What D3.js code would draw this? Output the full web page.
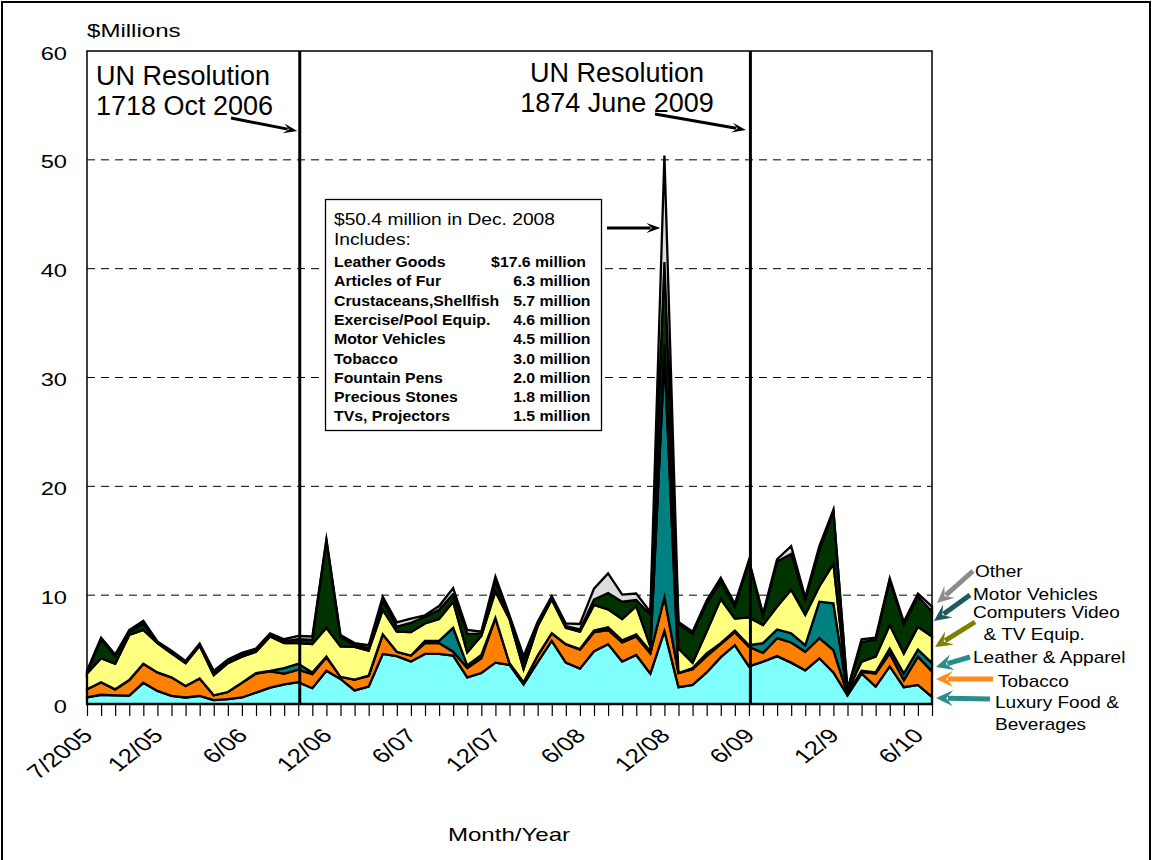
<!DOCTYPE html>
<html><head><meta charset="utf-8">
<script src="https://cdn.jsdelivr.net/npm/d3@7/dist/d3.min.js"></script>
<style>
body{margin:0;background:#fff}
svg{display:block}
text{font-family:"Liberation Sans",Arial,sans-serif}
</style>
</head><body>
<svg id="chart" width="1153" height="860"></svg>
<script>
// ---------------- DATA ----------------
const months = [
 "2005-07","2005-08","2005-09","2005-10","2005-11","2005-12",
 "2006-01","2006-02","2006-03","2006-04","2006-05","2006-06","2006-07","2006-08","2006-09","2006-10","2006-11","2006-12",
 "2007-01","2007-02","2007-03","2007-04","2007-05","2007-06","2007-07","2007-08","2007-09","2007-10","2007-11","2007-12",
 "2008-01","2008-02","2008-03","2008-04","2008-05","2008-06","2008-07","2008-08","2008-09","2008-10","2008-11","2008-12",
 "2009-01","2009-02","2009-03","2009-04","2009-05","2009-06","2009-07","2009-08","2009-09","2009-10","2009-11","2009-12",
 "2010-01","2010-02","2010-03","2010-04","2010-05","2010-06","2010-07"];

const luxuryFood = [0.6,0.85,0.8,0.77,1.95,1.2,0.75,0.6,0.75,0.35,
 0.45,0.6,1.05,1.5,1.8,2.0,1.45,3.05,2.3,1.25,
 1.6,4.6,4.4,3.9,4.6,4.6,4.45,2.45,2.85,3.8,
 3.6,1.8,3.85,5.8,3.8,3.25,4.85,5.5,3.9,4.5,
 2.8,6.7,1.55,1.75,2.9,4.3,5.4,3.45,3.9,4.4,
 3.8,3.1,4.2,2.9,0.8,2.8,1.6,3.45,1.55,1.75,
 0.65];
const tobacco = [0.75,1.15,0.55,1.43,1.75,1.7,1.7,1.05,1.6,0.45,
 0.65,1.35,1.75,1.5,1.0,1.15,1.3,1.25,0.2,1.0,
 1.0,1.8,0.4,0.55,1.0,1.0,0.35,0.85,1.35,4.1,
 0.15,0.15,0.6,0.7,1.7,1.75,1.75,1.3,1.75,1.7,
 1.85,3.1,1.3,1.45,1.5,1.2,1.2,1.8,0.8,1.65,
 1.85,1.7,1.85,2.05,0.1,0.15,1.2,1.2,0.65,2.6,
 2.35];
const leatherApparel = [0,0,0,0,0,0,0,0,0,0,
 0,0,0.05,0.05,0.5,0.55,0.15,0.05,0,0,
 0,0,0,0,0.2,0.2,2.2,0.25,0.3,0,
 0,0.05,0,0,0,0.05,0.15,0.25,0.2,0.2,
 0.2,22.2,0,0.1,0.25,0.1,0.15,0.15,0.9,0.8,
 0.85,0.6,3.35,4.3,0.05,0.1,0.1,0.45,0.6,0.65,
 0.75];
const computersTV = [1.45,2.2,2.35,4.15,3.1,2.7,2.2,2.1,3.0,1.85,
 2.65,2.4,1.95,3.15,2.3,1.9,2.6,2.65,2.8,3.0,
 2.3,2.25,1.85,2.15,1.6,2.0,2.4,1.2,1.75,2.45,
 4.05,1.2,2.7,3.1,1.5,1.6,2.35,1.65,1.95,2.6,
 0.45,1.0,2.25,0.5,2.0,4.05,1.1,2.55,1.65,2.1,
 4.0,2.8,1.4,3.65,0.2,0.85,1.45,2.15,1.85,2.1,
 2.45];
const motorVehicles = [0.15,1.75,0.7,0.25,0.6,0.05,0.1,0.1,0.1,0.25,
 0.15,0.15,0.15,0.15,0.15,0.35,0.4,8.05,0.85,0.15,
 0.25,0.85,0.45,0.85,0.6,0.85,0.7,1.7,0.25,0.9,
 0.15,0.8,0.2,0.2,0.15,0.2,0.5,1.5,1.6,0.55,
 2.9,7.6,2.25,2.65,2.6,1.6,1.1,5.15,0.85,4.15,
 3.3,1.4,3.3,4.8,0.15,1.8,1.55,4.15,2.7,2.75,
 2.3];
const other = [0.1,0.15,0.15,0.2,0.25,0.1,0.15,0.1,0.1,0.15,
 0.2,0.2,0.15,0.15,0.2,0.3,0.3,0.05,0.2,0.2,
 0.25,0.35,0.4,0.4,0.15,0.35,0.55,0.35,0.15,0.45,
 0.2,0.4,0.2,0.1,0.25,0.5,1.0,1.8,0.65,0.6,
 0.25,9.8,0.2,0.2,0.25,0.35,0.25,0.1,0.2,0.2,
 0.7,0.2,0.4,0.15,0.05,0.25,0.2,0.15,0.2,0.3,
 0.45];

const seriesKeys = ["food","tobacco","leather","computers","motor","other"];
const seriesColors = ["#80FFFF","#FF8000","#008080","#FFFF80","#003300","#DDDDDD"];

const yTicks = [0,10,20,30,40,50,60];
const xLabelMonths = ["2005-07","2005-12","2006-06","2006-12","2007-06","2007-12","2008-06","2008-12","2009-06","2009-12","2010-06"];
const xLabels = ["7/2005","12/05","6/06","12/06","6/07","12/07","6/08","12/08","6/09","12/9","6/10"];

const resolutionMonths = ["2006-10","2009-06"];
const resolutionText = [["UN Resolution","1718 Oct 2006"],["UN Resolution","1874 June 2009"]];

const boxTitle = "$50.4 million in Dec. 2008";
const boxSub = "Includes:";
const boxItems = ["Leather Goods","Articles of Fur","Crustaceans,Shellfish","Exercise/Pool Equip.","Motor Vehicles","Tobacco","Fountain Pens","Precious Stones","TVs, Projectors"];
const boxAmounts = ["$17.6 million","6.3 million","5.7 million","4.6 million","4.5 million","3.0 million","2.0 million","1.8 million","1.5 million"];

const legendLines = [["Other"],["Motor Vehicles"],["Computers Video","  & TV Equip."],["Leather & Apparel"],["Tobacco"],["Luxury Food &","Beverages"]];
const legendArrowColors = ["#8C8C8C","#1E5A5A","#808000","#2A8C8C","#FF8C1A","#2A8C8C"];

// ---------------- CHART ----------------
const svg = d3.select("#chart");
const L = 87, R = 932, T = 51, B = 704;
const x = d3.scalePoint().domain(months).range([L, R]);
const y = d3.scaleLinear().domain([0, 60]).range([B, T]);

function txt(g, px, py, s, o = {}) {
  const t = g.append("text").attr("x", px).attr("y", py).text(s)
    .attr("font-size", o.size || 16).attr("font-weight", o.weight || "normal")
    .attr("text-anchor", o.anchor || "start").attr("fill", o.fill || "#000")
    .style("white-space", "pre");
  if (o.transform) t.attr("transform", o.transform);
  if (o.sx && o.sx !== 1) {
    const len = t.node().getComputedTextLength();
    t.attr("textLength", len * o.sx).attr("lengthAdjust", "spacingAndGlyphs");
  }
  return t;
}
function arrow(g, x1, y1, x2, y2, color, w, hl, hw) {
  const ang = Math.atan2(y2 - y1, x2 - x1);
  const cx = Math.cos(ang), sy = Math.sin(ang);
  const bx = x2 - cx * hl * 0.7, by = y2 - sy * hl * 0.7;
  g.append("line").attr("x1", x1).attr("y1", y1).attr("x2", bx).attr("y2", by)
    .attr("stroke", color).attr("stroke-width", w);
  const px = -sy, py = cx;
  const pts = [[x2, y2],
    [x2 - cx * hl + px * hw / 2, y2 - sy * hl + py * hw / 2],
    [x2 - cx * hl * 0.6, y2 - sy * hl * 0.6],
    [x2 - cx * hl - px * hw / 2, y2 - sy * hl - py * hw / 2]];
  g.append("polygon").attr("points", pts.map(p => p.join(",")).join(" ")).attr("fill", color);
}

// outer border
svg.append("rect").attr("x", 2).attr("y", 2).attr("width", 1148).attr("height", 880)
  .attr("fill", "none").attr("stroke", "#000").attr("stroke-width", 2);

// gridlines
svg.append("g").selectAll("line").data(yTicks.filter(v => v > 0 && v < 60)).join("line")
  .attr("x1", L).attr("x2", R).attr("y1", d => y(d)).attr("y2", d => y(d))
  .attr("stroke", "#000").attr("stroke-width", 1).attr("stroke-dasharray", "8,6");

// stacked areas
const table = months.map((m, i) => ({
  month: m, food: luxuryFood[i], tobacco: tobacco[i], leather: leatherApparel[i],
  computers: computersTV[i], motor: motorVehicles[i], other: other[i]
}));
const stacked = d3.stack().keys(seriesKeys)(table);
const area = d3.area().x(d => x(d.data.month)).y0(d => y(d[0])).y1(d => y(d[1]));
svg.append("g").selectAll("path").data(stacked).join("path")
  .attr("d", area).attr("fill", (d, i) => seriesColors[i])
  .attr("stroke", "#000").attr("stroke-width", 2.3).attr("stroke-linejoin", "miter")
  .attr("stroke-miterlimit", 20);

// plot frame
svg.append("rect").attr("x", L).attr("y", T).attr("width", R - L).attr("height", B - T)
  .attr("fill", "none").attr("stroke", "#000").attr("stroke-width", 1.5);

// x axis ticks
const xAxis = svg.append("g").attr("transform", `translate(0,${B})`)
  .call(d3.axisBottom(x).tickSize(12).tickFormat(""));
xAxis.select(".domain").remove();
xAxis.selectAll(".tick line").attr("stroke", "#000").attr("stroke-width", 1.2);
svg.append("line").attr("x1", L).attr("x2", R).attr("y1", B).attr("y2", B)
  .attr("stroke", "#000").attr("stroke-width", 2);

// resolution vertical lines
svg.append("g").selectAll("line").data(resolutionMonths).join("line")
  .attr("x1", d => x(d) + 1.5).attr("x2", d => x(d) + 1.5).attr("y1", T).attr("y2", B)
  .attr("stroke", "#000").attr("stroke-width", 3);

// y tick labels
yTicks.forEach(v => txt(svg, 67, y(v) + 8.5, String(v), {size: 18.5, anchor: "end", sx: 1.28}));
txt(svg, 87, 37, "$Millions", {size: 18.5, sx: 1.3});

// x tick labels (rotated, then stretched horizontally like the original)
xLabelMonths.forEach((m, i) => {
  const px = x(m) + 7, py = 737;
  txt(svg, 0, 0, xLabels[i], {size: 20, anchor: "end",
    transform: `translate(${px},${py}) scale(1.3,1) rotate(-45)`});
});
txt(svg, 509, 841, "Month/Year", {size: 18.5, anchor: "middle", sx: 1.3});

// UN resolution annotations
txt(svg, 96, 85, resolutionText[0][0], {size: 27});
txt(svg, 96, 115, resolutionText[0][1], {size: 27});
txt(svg, 617, 82, resolutionText[1][0], {size: 27, anchor: "middle"});
txt(svg, 617, 112, resolutionText[1][1], {size: 27, anchor: "middle"});
arrow(svg, 231, 118, x(resolutionMonths[0]) - 1, 131, "#000", 3, 14, 10);
arrow(svg, 655, 114, x(resolutionMonths[1]) - 3, 130, "#000", 3, 14, 10);

// info box
const box = svg.append("g");
box.append("rect").attr("x", 325.5).attr("y", 199.5).attr("width", 276).attr("height", 231)
  .attr("fill", "#fff").attr("stroke", "#000").attr("stroke-width", 1.3);
txt(box, 334, 225, boxTitle, {size: 16, sx: 1.2});
txt(box, 334, 245, boxSub, {size: 16, sx: 1.2});
boxItems.forEach((s, i) => {
  const py = 267 + i * 19.3;
  txt(box, 334, py, s, {size: 14.5, weight: "bold", sx: 1.09});
  txt(box, i === 0 ? 586 : 590.5, py, boxAmounts[i], {size: 14.5, weight: "bold", anchor: "end", sx: 1.09});
});
arrow(svg, 607, 228, x("2008-12") - 4, 228, "#000", 3, 14, 10);

// legend arrows + labels
const legArrows = [[973, 571, 937, 603], [970, 595, 934, 621], [975, 622, 935, 647],
                   [970, 657, 936, 667], [993, 679, 936, 679], [990, 699, 936, 698]];
legArrows.forEach((a, i) => arrow(svg, a[0], a[1], a[2], a[3], legendArrowColors[i], 5, 17, 16));
const legPos = [[975, 577], [973, 600], [973, 618], [973, 663], [998, 687], [995, 708]];
legendLines.forEach((lines, i) => {
  lines.forEach((s, j) => txt(svg, legPos[i][0], legPos[i][1] + j * 21.5, s, {size: 17, sx: 1.12}));
});
</script>
</body></html>
